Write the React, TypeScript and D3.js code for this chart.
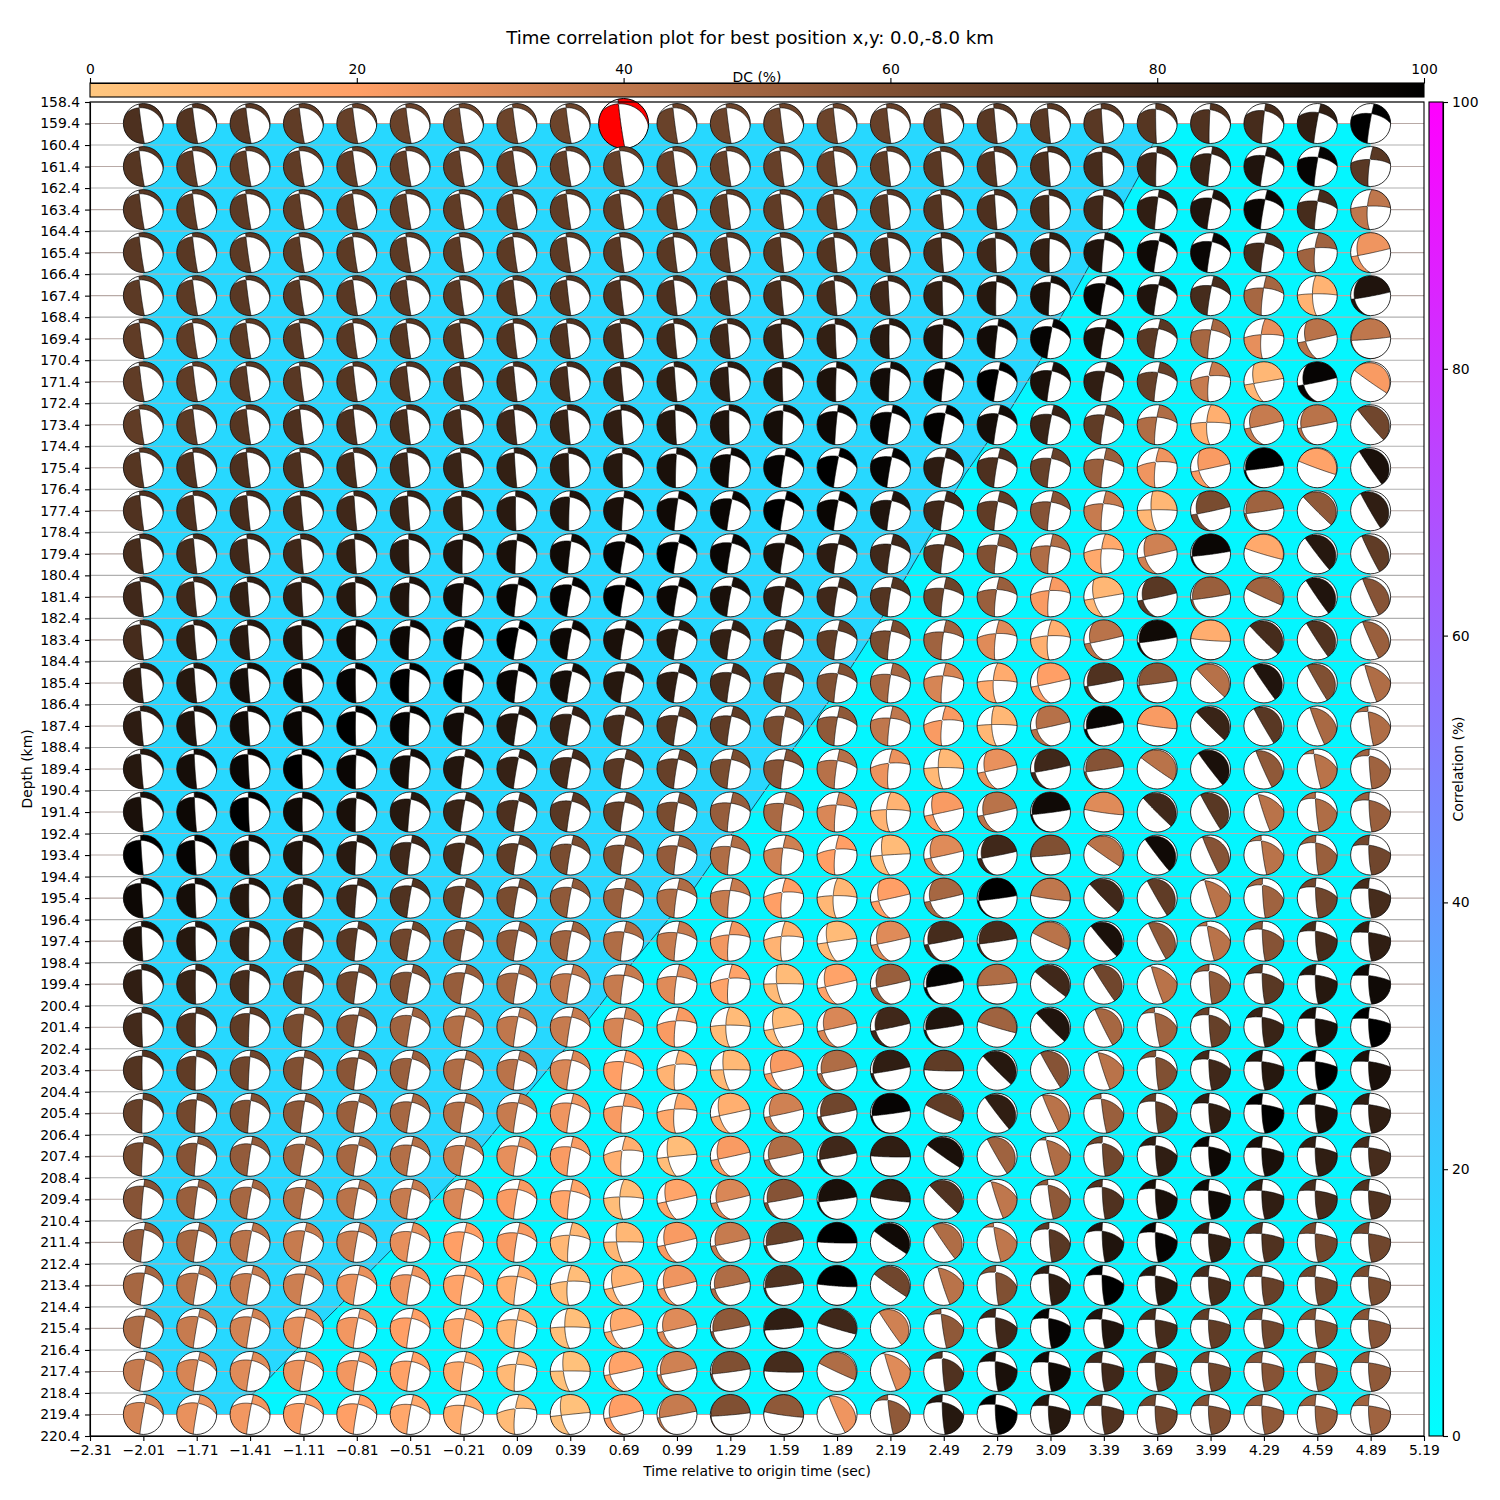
import { useRef, useEffect } from 'react';
import * as d3 from 'd3';

const times = [-2.01,-1.71,-1.41,-1.11,-0.81,-0.51,-0.21,0.09,0.39,0.69,0.99,1.29,1.59,1.89,2.19,2.49,2.79,3.09,3.39,3.69,3.99,4.29,4.59,4.89];
const depths = [159.4,161.4,163.4,165.4,167.4,169.4,171.4,173.4,175.4,177.4,179.4,181.4,183.4,185.4,187.4,189.4,191.4,193.4,195.4,197.4,199.4,201.4,203.4,205.4,207.4,209.4,211.4,213.4,215.4,217.4,219.4];
const timeTicks = [-2.31,-2.01,-1.71,-1.41,-1.11,-0.81,-0.51,-0.21,0.09,0.39,0.69,0.99,1.29,1.59,1.89,2.19,2.49,2.79,3.09,3.39,3.69,3.99,4.29,4.59,4.89,5.19];
const depthTicks = [158.4,159.4,160.4,161.4,162.4,163.4,164.4,165.4,166.4,167.4,168.4,169.4,170.4,171.4,172.4,173.4,174.4,175.4,176.4,177.4,178.4,179.4,180.4,181.4,182.4,183.4,184.4,185.4,186.4,187.4,188.4,189.4,190.4,191.4,192.4,193.4,194.4,195.4,196.4,197.4,198.4,199.4,200.4,201.4,202.4,203.4,204.4,205.4,206.4,207.4,208.4,209.4,210.4,211.4,212.4,213.4,214.4,215.4,216.4,217.4,218.4,219.4,220.4];
const barTicks = [0,20,40,60,80,100];

// DC percentage of each ball
const dcRows = [
[76,74,72,70,68,67,66,66,66,68,67,66,66,66,68,70,72,72,72,73,75,78,85,100],
[73,71,70,70,70,69,69,69,69,68,68,68,68,68,70,72,74,76,78,80,82,90,98,72],
[72,71,71,70,70,70,70,70,70,70,70,70,70,70,72,74,76,78,80,85,90,97,78,40],
[72,72,71,71,71,71,71,71,71,72,72,72,73,74,76,78,80,84,90,95,97,78,50,25],
[71,71,72,72,72,72,72,73,73,75,76,76,77,78,80,84,88,92,97,90,78,48,10,90],
[70,70,71,72,72,73,73,74,75,77,79,80,82,84,87,90,94,98,92,72,48,28,42,40],
[70,70,72,72,73,74,75,77,78,81,84,86,88,91,94,97,100,92,85,68,38,8,98,22],
[70,71,73,76,76,77,78,80,82,85,88,90,93,96,98,99,93,82,70,45,12,38,42,65],
[73,75,76,76,78,80,82,84,86,88,92,95,98,100,98,86,76,68,52,25,22,100,18,92],
[75,76,78,78,80,82,84,87,90,92,95,97,100,97,90,80,70,58,38,8,62,50,55,85],
[78,78,80,80,84,87,90,92,95,98,100,97,92,86,80,72,60,45,15,35,97,15,88,70],
[80,80,84,85,88,90,94,97,98,100,96,92,86,80,74,66,52,22,8,72,52,50,90,58],
[78,84,87,90,94,96,98,100,96,92,88,84,78,70,62,50,30,12,42,95,13,78,75,52],
[84,88,93,96,98,100,100,97,93,88,85,78,70,60,48,33,14,20,75,57,43,90,60,45],
[86,90,94,97,100,98,94,89,83,78,74,70,62,55,40,22,8,43,97,22,82,72,47,45],
[88,93,97,100,97,93,89,83,78,72,68,62,58,43,26,7,27,80,58,42,92,55,42,50],
[92,96,100,95,92,88,82,76,72,68,62,53,47,32,10,22,42,95,30,80,72,42,45,52],
[100,98,93,90,87,80,77,70,62,60,54,45,35,20,6,30,80,60,42,95,58,42,52,65],
[96,93,88,84,80,75,68,62,55,52,45,38,20,8,20,48,100,40,80,70,42,50,65,78],
[91,88,83,78,72,65,60,55,50,45,38,24,10,6,30,78,78,42,92,55,42,58,78,85],
[85,82,78,70,65,60,53,48,40,38,30,18,6,18,52,98,45,80,65,42,55,72,88,95],
[79,75,70,62,58,50,44,40,38,33,22,6,6,32,80,90,50,90,48,50,68,82,92,100],
[74,70,65,60,57,52,45,42,32,20,10,7,22,45,85,70,88,58,42,60,80,88,100,92],
[68,64,60,56,52,48,44,38,25,22,15,12,35,65,98,70,85,42,52,70,85,100,92,85],
[63,58,54,50,48,44,38,28,22,12,5,22,45,80,85,92,50,45,65,85,96,92,85,78],
[58,52,48,45,42,38,32,22,17,5,17,32,58,92,85,75,40,55,75,92,95,85,78,75],
[54,48,42,38,36,28,20,22,8,8,22,38,68,100,95,45,40,72,90,98,85,75,65,65],
[48,42,38,36,27,25,18,12,5,10,25,45,75,100,65,42,60,85,100,88,78,68,65,62],
[45,38,34,28,24,20,16,9,4,14,30,55,85,80,35,55,80,98,90,78,70,65,60,58],
[38,33,30,26,24,19,15,7,3,18,35,60,78,45,30,75,92,95,80,72,65,58,55,55],
[33,27,24,22,20,16,13,6,3,20,38,60,55,25,55,88,100,88,75,65,60,55,52,50],
];

// which of the mechanisms below each ball looks like
const shapeRows = [
[0,0,0,0,0,0,0,0,0,0,.2,.3,.4,.6,.8,1,1.3,1.6,2,2.5,3,3.5,4.5,5.2],
[0,0,0,0,0,0,0,0,.1,.2,.3,.4,.6,.8,1,1.3,1.6,2,2.4,3,3.6,4.6,5.5,6.5],
[0,0,0,0,0,0,.1,.2,.3,.4,.5,.7,.9,1.1,1.4,1.7,2,2.5,3,3.6,4.3,5,6,7.7],
[0,0,0,0,.1,.1,.2,.3,.4,.5,.7,.9,1.1,1.4,1.7,2,2.4,2.8,3.4,4,4.6,5.5,7.3,10.7],
[0,0,.1,.1,.2,.3,.4,.5,.6,.8,1,1.2,1.5,1.8,2.1,2.5,2.9,3.3,4,4.6,5.2,6.3,8.3,11.7],
[.1,.1,.2,.3,.4,.5,.6,.8,1,1.2,1.4,1.7,2,2.3,2.7,3,3.5,4,4.6,5.1,5.8,7.5,10.3,13],
[.2,.3,.4,.5,.6,.7,.9,1.1,1.3,1.5,1.8,2.1,2.5,2.9,3.2,3.6,4,4.6,5,5.5,7,9.8,11,15.5],
[.3,.4,.5,.7,.8,1,1.2,1.5,1.7,2,2.3,2.6,3,3.4,3.8,4.2,4.6,5,5.3,6.3,8,11,11.7,16.3],
[.5,.6,.8,1,1.2,1.4,1.7,2,2.3,2.6,3,3.4,3.8,4.2,4.6,5,5.2,5.5,6,7,10.3,12.5,14.7,16.7],
[.8,1,1.2,1.5,1.7,2,2.3,2.6,3,3.3,3.7,4,4.4,4.7,5,5.3,5.5,5.8,6.5,8.7,11,12.3,16,17],
[1,1.2,1.5,1.8,2.2,2.5,2.9,3.2,3.6,4,4.3,4.6,4.9,5.1,5.4,5.7,6,6.2,7.3,10.5,12.5,14.5,16.5,17.3],
[1.2,1.5,1.8,2.2,2.5,2.9,3.3,3.7,4,4.3,4.6,4.8,5,5.3,5.6,6,6.4,6.8,9.8,11.2,12.3,15,16.7,17.5],
[1.4,1.7,2,2.4,2.8,3.2,3.6,4,4.3,4.6,4.8,5,5.2,5.5,5.8,6.2,6.8,7.5,11,12.3,13.7,16,16.8,17.5],
[1.6,1.8,2,2.3,2.6,3,3.3,3.7,4,4.6,4.8,5,5.2,5.5,6,6.5,8,10.5,11.7,12.5,16,16.7,17,18],
[1.7,1.9,2.1,2.4,2.7,3.1,3.5,3.9,4.2,4.8,5,5.2,5.4,5.7,6.2,7,8.5,11,12,14,16,17,17.7,18.7],
[1.8,2,2.2,2.5,2.9,3.3,3.7,4.1,4.4,5,5.2,5.4,5.7,6,7,8.5,10.5,11.5,12.3,15.5,16.5,17.5,18.5,19],
[1.9,2.1,2.4,2.7,3,3.5,3.9,4.3,4.6,5.2,5.4,5.7,6,6.5,8,10,11,12.5,14,16,17,18,18.9,19.3],
[2,2.3,2.6,2.9,3.2,3.7,4.1,4.4,4.7,5.3,5.6,6,6.5,7,9.3,10.7,11.5,13,15.5,16.5,17.5,18.7,19.2,19.7],
[2.1,2.4,2.7,3,3.4,3.9,4.2,4.5,4.8,5.5,5.8,6.3,7,8,10.3,11,12.5,14,16,17,18,19,19.5,19.8],
[2.3,2.6,2.9,3.2,3.6,4,4.3,4.6,5,5.6,6,6.8,7.3,9.7,10.8,11.5,12.3,15,16.3,17.3,18.5,19.3,19.7,20],
[2.4,2.7,3,3.4,3.8,4.1,4.4,4.7,5,5.7,6.3,7,9,10.3,11,12,13,15.7,16.8,18,19,19.5,19.9,20],
[2.5,2.8,3.1,3.5,3.9,4.2,4.5,4.8,5,5.8,6.8,8.2,9.8,10.7,11.3,12.3,14.5,16,17.3,18.7,19.2,19.7,20,20],
[2.7,3,3.2,3.5,3.8,4.2,4.5,4.8,5,6,7,9,10.5,11.5,12,13.5,16,17,18,19,19.5,20,20,20],
[3,3.2,3.5,3.8,4.1,4.4,4.6,4.9,5.1,6.5,7.5,10,11,11.7,12.5,15,16.5,17.5,18.7,19.3,19.7,20,20,20],
[3.2,3.5,3.8,4,4.3,4.5,4.8,5,5.5,7,9.5,10.5,11.3,12,13.5,15.5,17,18.3,19,19.5,19.8,20,20,20],
[3.4,3.7,4,4.2,4.4,4.7,4.9,5.2,6,8,10,11,11.7,12.5,14,16,18,18.7,19.2,19.6,20,20,20,20],
[3.6,3.9,4.1,4.3,4.5,4.8,5,5.5,6.5,9,10.5,11.3,12,13.5,15.5,16.7,18.5,19,19.4,19.7,20,20,20,20],
[3.8,4,4.2,4.4,4.6,4.9,5.2,5.7,7.5,10,10.7,11.5,12.5,13.7,15.5,18,19,19.3,19.6,19.8,20,20,20,20],
[3.9,4.1,4.3,4.5,4.7,5,5.4,6,8.5,10.5,11,12,13,14.5,16.7,18.7,19.5,19.7,19.9,20,20,20,20,20],
[4,4.2,4.4,4.6,4.8,5.1,5.5,6.5,9,11,11.7,12.5,13.5,15,18,19,19.7,19.9,20,20,20,20,20,20],
[4.1,4.3,4.5,4.7,4.9,5.2,5.7,7,9.5,11,12,13,14,17.5,18.7,19.2,19.7,20,20,20,20,20,20,20],
];

// nodal curves: direction of the bulge (deg from north), half width between the ends, colatitude of the mid point
const shapeKeys = [0,1,2,3,4,5,6,7,8,9,10,11,12,13,14,15,16,17,18,19,20];
const dirA =   [262,264,266,272,280,280,278,276,272,262,255,255,260,255,235,220,225,235,210,198,188];
const widthA = [85,85,86,88,90,90,90,90,90,80,73,75,65,75,90,100,100,100,123,102,107];
const midA =   [9,8,7,5,2,3,4,9,16,28,46,59,76,86,91,97,100,104,116,128,146];
const dirB =   [18,18,16,14,12,10,8,-5,0,0,-12,-12,-10,-5,8,25,45,60,72,86,87];
const widthB = [78,78,78,79,80,81,80,83,88,90,90,90,90,90,90,90,90,90,90,90,90];
const midB =   [66,64,61,57,49,42,34,24,10,2,-1,-2,-2,-2,-3,-2,-2,-2,-3,-4,-8];

// edge of the 10 % correlation level
const edgeTimes = [-1.52,-1.39,-1.30,-1.14,-1.00,-0.89,-0.73,-0.61,-0.48,-0.40,-0.25,-0.11,-0.02,0.18,0.27,0.37,0.555,0.74,0.95,1.09,1.30,1.40,1.51,1.65,1.84,1.97,2.06,2.30,2.61,2.87,3.04,3.14,3.31,3.59,3.65,3.73];
const edgeDepths = [219.4,218.4,217.7,216.3,215.1,214.2,212.7,211.7,210.4,209.6,208.3,207,206.1,204.2,203.3,202.3,200.4,198.4,196.3,194.9,192.4,191.4,190.1,188.4,186.3,184.66,183.5,180.15,175.7,172.62,170.3,168.53,165.98,161.8,160.6,159.4];

const bestRow = 0;
const bestCol = 9;

const FONT = '"DejaVu Sans", sans-serif';
const rad = Math.PI / 180;

function nodalCurve(dir, width, mid) {
  // past the rim the curve comes back on the opposite side
  if (mid > 90) {
    dir += 180;
    width = 180 - width;
    mid = 180 - mid;
  }
  const c = Math.cos(mid * rad);
  const s = Math.sin(mid * rad) - Math.cos(width * rad);
  const d = Math.atan2(c, s);
  return {
    e: Math.sin(d) * Math.sin(dir * rad),
    n: Math.sin(d) * Math.cos(dir * rad),
    u: Math.cos(d),
    k: -Math.sin(d) * Math.cos(width * rad),
  };
}

const GRID = 42;
const BALL_R = 20;
const gridPos = d3.scaleLinear().domain([0.5, GRID - 0.5]).range([-BALL_R * 1.06, BALL_R * 1.06]);
const gridPath = d3.geoPath(
  d3.geoTransform({
    point(x, y) {
      this.stream.point(gridPos(x), gridPos(y));
    },
  })
);

const scaleFor = (arr) => d3.scaleLinear().domain(shapeKeys).range(arr);
const sDirA = scaleFor(dirA);
const sWidthA = scaleFor(widthA);
const sMidA = scaleFor(midA);
const sDirB = scaleFor(dirB);
const sWidthB = scaleFor(widthB);
const sMidB = scaleFor(midB);

function ballPath(shape) {
  const a = nodalCurve(sDirA(shape), sWidthA(shape), sMidA(shape));
  const b = nodalCurve(sDirB(shape), sWidthB(shape), sMidB(shape));
  const values = new Array(GRID * GRID);
  for (let j = 0; j < GRID; j++) {
    for (let i = 0; i < GRID; i++) {
      const x = (2.12 * (i / (GRID - 1)) - 1.06);
      const y = -(2.12 * (j / (GRID - 1)) - 1.06);
      const r = Math.min(Math.hypot(x, y), 1.4);
      const th = 2 * Math.asin(r / Math.SQRT2);
      const az = Math.atan2(x, y);
      const ne = Math.sin(th) * Math.sin(az);
      const nn = Math.sin(th) * Math.cos(az);
      const nu = -Math.cos(th);
      const fa = ne * a.e + nn * a.n + nu * a.u + a.k;
      const fb = ne * b.e + nn * b.n + nu * b.u + b.k;
      values[j * GRID + i] = -fa * fb;
    }
  }
  const [poly] = d3.contours().size([GRID, GRID]).thresholds([0])(values);
  return gridPath(poly);
}

export default function App() {
  const ref = useRef(null);

  useEffect(() => {
    const svg = d3.select(ref.current);
    svg.selectAll('*').remove();

    const m = { top: 102, right: 1424, bottom: 1436, left: 90 };
    const x = d3.scaleLinear().domain([-2.31, 5.19]).range([m.left, m.right]);
    const y = d3.scaleLinear().domain([158.4, 220.4]).range([m.top, m.bottom]);
    const dcColor = d3.scaleLinear().domain([0, 20, 100]).range(['#ffc77f', '#ff9f66', '#000000']);
    const dcX = d3.scaleLinear().domain([0, 100]).range([m.left, m.right]);
    const corrY = d3.scaleLinear().domain([0, 100]).range([m.bottom, m.top]);

    const defs = svg.append('defs');
    const g1 = defs.append('linearGradient').attr('id', 'dcGrad');
    g1.append('stop').attr('offset', '0%').attr('stop-color', dcColor(0));
    g1.append('stop').attr('offset', '20%').attr('stop-color', dcColor(20));
    g1.append('stop').attr('offset', '100%').attr('stop-color', dcColor(100));
    const g2 = defs.append('linearGradient').attr('id', 'corrGrad').attr('x1', 0).attr('x2', 0).attr('y1', 1).attr('y2', 0);
    g2.append('stop').attr('offset', '0%').attr('stop-color', '#00ffff');
    g2.append('stop').attr('offset', '100%').attr('stop-color', '#ff00ff');
    defs.append('clipPath').attr('id', 'ballClip').append('circle').attr('r', BALL_R);

    // correlation field
    const t0 = times[0];
    const t1 = times[times.length - 1];
    const d0 = depths[0];
    const d1 = depths[depths.length - 1];
    svg.append('rect')
      .attr('x', x(t0)).attr('y', y(d0))
      .attr('width', x(t1) - x(t0)).attr('height', y(d1) - y(d0))
      .attr('fill', '#04f6ff');
    const edge = edgeTimes.map((t, i) => [x(t), y(edgeDepths[i])]);
    svg.append('path')
      .attr('d', d3.line()([[x(t0), y(d1)], ...edge, [x(t0), y(d0)]]) + 'Z')
      .attr('fill', '#27d8ff');
    svg.append('path')
      .attr('d', d3.line()(edge))
      .attr('fill', 'none')
      .attr('stroke', '#1c4f63')
      .attr('stroke-width', 1);

    // grid
    svg.append('g').selectAll('line').data(depthTicks).enter().append('line')
      .attr('x1', m.left).attr('x2', m.right)
      .attr('y1', (d) => y(d)).attr('y2', (d) => y(d))
      .attr('stroke', (d) => (depths.includes(d) ? '#b8aaa6' : '#b0b0b0'))
      .attr('stroke-width', 1.1);

    // balls
    const balls = svg.append('g');
    depths.forEach((d, r) => {
      times.forEach((t, c) => {
        const best = r === bestRow && c === bestCol;
        const k = best ? 1.25 : 1;
        const g = balls.append('g').attr('transform', `translate(${x(t)},${y(d)}) scale(${k})`);
        g.append('circle').attr('r', BALL_R).attr('fill', '#fff');
        g.append('path')
          .attr('clip-path', 'url(#ballClip)')
          .attr('d', ballPath(shapeRows[r][c]))
          .attr('fill', best ? '#ff0000' : dcColor(dcRows[r][c]))
          .attr('stroke', '#000')
          .attr('stroke-width', 0.6);
        g.append('circle').attr('r', BALL_R).attr('fill', 'none').attr('stroke', '#000').attr('stroke-width', 0.8);
      });
    });

    // frame and axes
    svg.append('rect')
      .attr('x', m.left).attr('y', m.top)
      .attr('width', m.right - m.left).attr('height', m.bottom - m.top)
      .attr('fill', 'none').attr('stroke', '#000').attr('stroke-width', 1.1);

    const style = (s) => {
      s.selectAll('text').attr('fill', '#000').style('font-family', FONT).style('font-size', '13.9px');
      s.selectAll('line,path').attr('stroke', '#000').attr('stroke-width', 1.1);
    };
    svg.append('g').attr('transform', `translate(${m.left},0)`)
      .call(d3.axisLeft(y).tickValues(depthTicks).tickFormat(d3.format('.1f')).tickSize(5).tickPadding(5).tickSizeOuter(0))
      .call(style);
    svg.append('g').attr('transform', `translate(0,${m.bottom})`)
      .call(d3.axisBottom(x).tickValues(timeTicks).tickFormat(d3.format('.2f')).tickSize(5).tickPadding(4).tickSizeOuter(0))
      .call(style);

    // DC colour bar
    svg.append('rect').attr('x', m.left).attr('y', 83).attr('width', m.right - m.left).attr('height', 14)
      .attr('fill', 'url(#dcGrad)').attr('stroke', '#000').attr('stroke-width', 1.1);
    svg.append('g').attr('transform', 'translate(0,83)')
      .call(d3.axisTop(dcX).tickValues(barTicks).tickFormat(d3.format('d')).tickSize(5).tickPadding(4).tickSizeOuter(0))
      .call(style);

    // correlation colour bar
    svg.append('rect').attr('x', 1429).attr('y', m.top).attr('width', 14).attr('height', m.bottom - m.top)
      .attr('fill', 'url(#corrGrad)').attr('stroke', '#000').attr('stroke-width', 1.1);
    svg.append('g').attr('transform', 'translate(1443,0)')
      .call(d3.axisRight(corrY).tickValues(barTicks).tickFormat(d3.format('d')).tickSize(5).tickPadding(4).tickSizeOuter(0))
      .call(style);

    const label = (txt, px, py, size, rot) => {
      svg.append('text')
        .attr('transform', `translate(${px},${py})${rot ? ' rotate(-90)' : ''}`)
        .attr('text-anchor', 'middle')
        .attr('fill', '#000')
        .style('font-family', FONT)
        .style('font-size', size + 'px')
        .text(txt);
    };
    label('Time correlation plot for best position x,y: 0.0,-8.0 km', 750, 44, 18.1);
    label('DC (%)', 757, 82, 13.9);
    label('Time relative to origin time (sec)', 757, 1476, 13.9);
    label('Depth (km)', 32, 769, 13.9, true);
    label('Correlation (%)', 1463, 769, 13.9, true);
  }, []);

  return <svg ref={ref} width={1500} height={1500} style={{ position: 'absolute', left: 0, top: 0, background: '#fff' }} />;
}
